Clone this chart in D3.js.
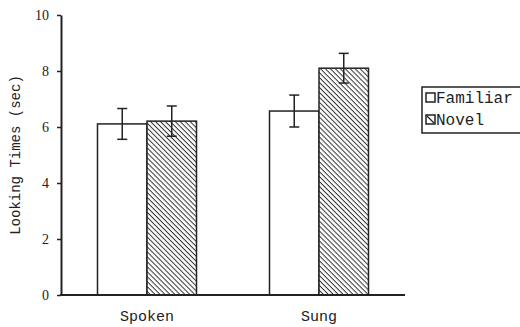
<!DOCTYPE html>
<html lang="en">
<head>
    <meta charset="UTF-8">
    <title>Looking Times</title>
    <script src="https://d3js.org/d3.v7.min.js"></script>
    <style>
        body { margin: 0; padding: 0; background: #fff; }
        svg { display: block; }
        .mono { font-family: "Liberation Mono", "DejaVu Sans Mono", monospace; fill: #222; }
        .tick-label { font-family: "Liberation Serif", "DejaVu Serif", serif; font-size: 14px; fill: #222; }
    </style>
</head>
<body>
    <div id="chart"></div>
    <script>
        const categories = ["Spoken", "Sung"];
        const series = ["Familiar", "Novel"];
        const familiarValues = [6.11, 6.57];
        const novelValues = [6.21, 8.10];
        const familiarErr = [0.55, 0.57];
        const novelErr = [0.54, 0.53];
        const yTicks = [0, 2, 4, 6, 8, 10];

        const width = 520, height = 327;
        const svg = d3.select("#chart").append("svg")
            .attr("width", width)
            .attr("height", height);

        // diagonal hatch, lines running top-left to bottom-right
        const defs = svg.append("defs");
        const pat = defs.append("pattern")
            .attr("id", "hatch")
            .attr("patternUnits", "userSpaceOnUse")
            .attr("width", 3.5)
            .attr("height", 3.5)
            .attr("patternTransform", "rotate(45)");
        pat.append("rect").attr("width", 3.5).attr("height", 3.5).attr("fill", "#fff");
        pat.append("line")
            .attr("x1", 0).attr("y1", 0).attr("x2", 3.5).attr("y2", 0)
            .attr("stroke", "#333").attr("stroke-width", 2);

        const x = d3.scaleBand().domain(categories).range([61, 405]);
        const xSub = d3.scaleBand().domain(series).range([-49.5, 49.5]);
        const y = d3.scaleLinear().domain([0, 10]).range([295, 15]);

        const rows = categories.map((c, i) => series.map(s => ({
            cat: c,
            s: s,
            v: s === "Familiar" ? familiarValues[i] : novelValues[i],
            e: s === "Familiar" ? familiarErr[i] : novelErr[i]
        }))).flat();

        // bars
        svg.append("g").selectAll("rect")
            .data(rows)
            .enter().append("rect")
            .attr("x", d => x(d.cat) + x.bandwidth() / 2 + xSub(d.s))
            .attr("y", d => y(d.v))
            .attr("width", xSub.bandwidth())
            .attr("height", d => y(0) - y(d.v))
            .attr("fill", d => d.s === "Novel" ? "url(#hatch)" : "#fff")
            .attr("stroke", "#222")
            .attr("stroke-width", 1.5);

        // error bars
        const eb = svg.append("g").selectAll("g")
            .data(rows)
            .enter().append("g")
            .attr("stroke", "#222")
            .attr("stroke-width", 1.5);
        const cx = d => x(d.cat) + x.bandwidth() / 2 + xSub(d.s) + xSub.bandwidth() / 2;
        eb.append("line")
            .attr("x1", cx).attr("x2", cx)
            .attr("y1", d => y(d.v + d.e)).attr("y2", d => y(d.v - d.e));
        eb.append("line")
            .attr("x1", d => cx(d) - 5).attr("x2", d => cx(d) + 5)
            .attr("y1", d => y(d.v + d.e)).attr("y2", d => y(d.v + d.e));
        eb.append("line")
            .attr("x1", d => cx(d) - 5).attr("x2", d => cx(d) + 5)
            .attr("y1", d => y(d.v - d.e)).attr("y2", d => y(d.v - d.e));

        // y axis
        const yAxis = svg.append("g")
            .attr("transform", "translate(61,0)")
            .call(d3.axisLeft(y).tickValues(yTicks).tickSize(4).tickSizeOuter(0).tickPadding(8));
        yAxis.select(".domain").attr("stroke", "#222").attr("stroke-width", 2);
        yAxis.selectAll(".tick line").attr("stroke", "#222").attr("stroke-width", 1.5);
        yAxis.selectAll(".tick text").attr("class", "tick-label").attr("font-size", null).attr("font-family", null);

        // x baseline
        svg.append("line")
            .attr("x1", 60).attr("x2", 405)
            .attr("y1", y(0)).attr("y2", y(0))
            .attr("stroke", "#222").attr("stroke-width", 2);

        // category labels
        svg.append("g").selectAll("text")
            .data(categories)
            .enter().append("text")
            .attr("class", "mono")
            .attr("x", d => x(d) + x.bandwidth() / 2)
            .attr("y", 321)
            .attr("text-anchor", "middle")
            .attr("font-size", 15)
            .text(d => d);

        // y title
        svg.append("text")
            .attr("class", "mono")
            .attr("transform", "translate(20,155) rotate(-90)")
            .attr("text-anchor", "middle")
            .attr("font-size", 14)
            .text("Looking Times (sec)");

        // legend
        const lg = svg.append("g");
        lg.append("rect")
            .attr("x", 422).attr("y", 87)
            .attr("width", 110).attr("height", 46)
            .attr("fill", "#fff").attr("stroke", "#222").attr("stroke-width", 1.5);
        const li = lg.selectAll("g.item")
            .data(series)
            .enter().append("g")
            .attr("class", "item")
            .attr("transform", (d, i) => `translate(426,${93 + i * 22})`);
        li.append("rect")
            .attr("width", 9).attr("height", 9)
            .attr("fill", "#fff")
            .attr("stroke", "#222").attr("stroke-width", 1.5);
        li.filter(d => d === "Novel").append("line")
            .attr("x1", 1).attr("y1", 1).attr("x2", 8).attr("y2", 8)
            .attr("stroke", "#222").attr("stroke-width", 1.2);
        li.append("text")
            .attr("class", "mono")
            .attr("x", 10)
            .attr("y", 10)
            .attr("font-size", 16)
            .text(d => d);
    </script>
</body>
</html>
